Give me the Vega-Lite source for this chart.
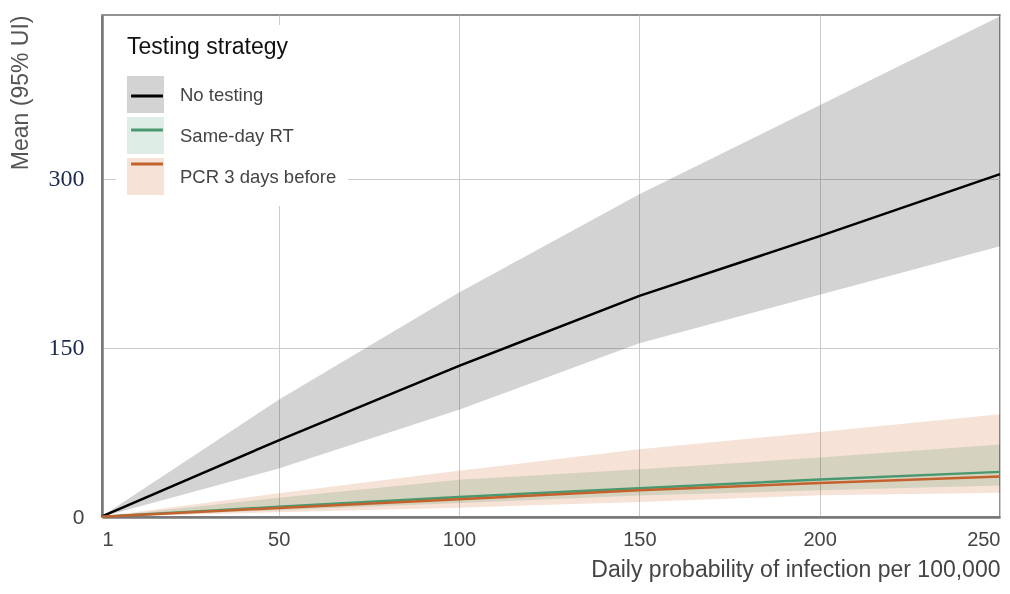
{
  "$schema": "https://vega.github.io/schema/vega-lite/v6.json",
  "width": 898,
  "height": 502,
  "autosize": "none",
  "padding": {"left": 102, "top": 15, "right": 10, "bottom": 77},
  "background": "white",
  "config": {
    "font": "Liberation Sans",
    "view": {"stroke": "#6e6e6e", "strokeWidth": 1.5}
  },
  "data": {
    "values": [
      {"x": 1, "strategy": "No testing", "mean": 0.5, "lo": 0.3, "hi": 0.7},
      {"x": 50, "strategy": "No testing", "mean": 68, "lo": 43, "hi": 104},
      {"x": 100, "strategy": "No testing", "mean": 134, "lo": 95, "hi": 199},
      {"x": 150, "strategy": "No testing", "mean": 196, "lo": 154, "hi": 286},
      {"x": 200, "strategy": "No testing", "mean": 249, "lo": 197, "hi": 365},
      {"x": 250, "strategy": "No testing", "mean": 304, "lo": 240, "hi": 444},
      {"x": 1, "strategy": "Same-day RT", "mean": 0.2, "lo": 0.1, "hi": 0.3},
      {"x": 50, "strategy": "Same-day RT", "mean": 9, "lo": 6, "hi": 17},
      {"x": 100, "strategy": "Same-day RT", "mean": 17.8, "lo": 12.4, "hi": 33},
      {"x": 150, "strategy": "Same-day RT", "mean": 25.5, "lo": 19, "hi": 42.3},
      {"x": 200, "strategy": "Same-day RT", "mean": 33.2, "lo": 23.7, "hi": 52.7},
      {"x": 250, "strategy": "Same-day RT", "mean": 40, "lo": 28, "hi": 64.3},
      {"x": 1, "strategy": "PCR 3 days before", "mean": 0.2, "lo": 0.1, "hi": 0.4},
      {"x": 50, "strategy": "PCR 3 days before", "mean": 8, "lo": 4.3, "hi": 21},
      {"x": 100, "strategy": "PCR 3 days before", "mean": 15.7, "lo": 8.3, "hi": 41},
      {"x": 150, "strategy": "PCR 3 days before", "mean": 23.7, "lo": 13.3, "hi": 60},
      {"x": 200, "strategy": "PCR 3 days before", "mean": 30.2, "lo": 19.3, "hi": 75.4},
      {"x": 250, "strategy": "PCR 3 days before", "mean": 36, "lo": 21.6, "hi": 91}
    ]
  },
  "encoding": {
    "x": {
      "field": "x",
      "type": "quantitative",
      "scale": {"domain": [1, 250], "nice": false, "zero": false},
      "axis": {
        "values": [1, 50, 100, 150, 200, 250],
        "title": "Daily probability of infection per 100,000",
        "titleFontSize": 23,
        "titleFontWeight": "normal",
        "titleColor": "#444444",
        "titleAnchor": "end",
        "titlePadding": 9,
        "labelFontSize": 20,
        "labelColor": "#444444",
        "labelPadding": 12,
        "labelFlush": true,
        "ticks": false,
        "domainColor": "#777777",
        "domainWidth": 2.5,
        "gridColor": "#cccccc",
        "gridWidth": 1
      }
    }
  },
  "layer": [
    {
      "mark": {"type": "area", "blend": "multiply", "opacity": 1},
      "encoding": {
        "y": {
          "field": "lo",
          "type": "quantitative",
          "scale": {"domain": [0, 445], "nice": false},
          "axis": {
            "values": [0, 150, 300],
            "title": "Mean (95% UI)",
            "titleFontSize": 23,
            "titleFontWeight": "normal",
            "titleColor": "#555555",
            "titleAnchor": "end",
            "titlePadding": 16,
            "labelFont": {"condition": {"test": "datum.value === 0", "value": "Liberation Sans"}, "value": "Liberation Serif"},
            "labelColor": {"condition": {"test": "datum.value === 0", "value": "#444444"}, "value": "#1c2a50"},
            "labelFontSize": {"condition": {"test": "datum.value === 0", "value": 21}, "value": 24},
            "labelPadding": 18,
            "ticks": false,
            "domainColor": "#777777",
            "domainWidth": 2.5,
            "gridColor": "#cccccc",
            "gridWidth": 1
          }
        },
        "y2": {"field": "hi"},
        "fill": {
          "field": "strategy",
          "type": "nominal",
          "scale": {
            "domain": ["No testing", "Same-day RT", "PCR 3 days before"],
            "range": ["#d3d3d3", "#deede5", "#f6e2d6"]
          },
          "legend": {
            "orient": "none",
            "legendX": 14,
            "legendY": 10,
            "title": "Testing strategy",
            "titleFontSize": 23,
            "titleFontWeight": "normal",
            "titleColor": "#111111",
            "titlePadding": 17,
            "labelFontSize": 18.5,
            "labelColor": "#444444",
            "labelOffset": 16,
            "symbolType": "square",
            "symbolSize": 1369,
            "symbolStrokeWidth": 0,
            "symbolOpacity": 1,
            "rowPadding": 4,
            "padding": 11,
            "fillColor": "white",
            "zindex": 1
          }
        }
      }
    },
    {
      "mark": {"type": "line", "strokeWidth": 2.5},
      "encoding": {
        "y": {"field": "mean", "type": "quantitative"},
        "stroke": {
          "field": "strategy",
          "type": "nominal",
          "sort": ["No testing", "Same-day RT", "PCR 3 days before"],
          "scale": {
            "range": ["#000000", "#4a9870", "#c4622d"]
          },
          "legend": {
            "orient": "none",
            "legendX": 14,
            "legendY": 10,
            "title": " ",
            "titleFontSize": 23,
            "titleFontWeight": "normal",
            "titlePadding": 17,
            "labelExpr": "''",
            "labelFontSize": 18.5,
            "labelOffset": 16,
            "symbolType": "M-0.86,0H0.86",
            "symbolSize": 1369,
            "symbolStrokeWidth": 3,
            "symbolFillColor": "transparent",
            "rowPadding": 4,
            "padding": 11,
            "zindex": 2
          }
        }
      }
    }
  ]
}
